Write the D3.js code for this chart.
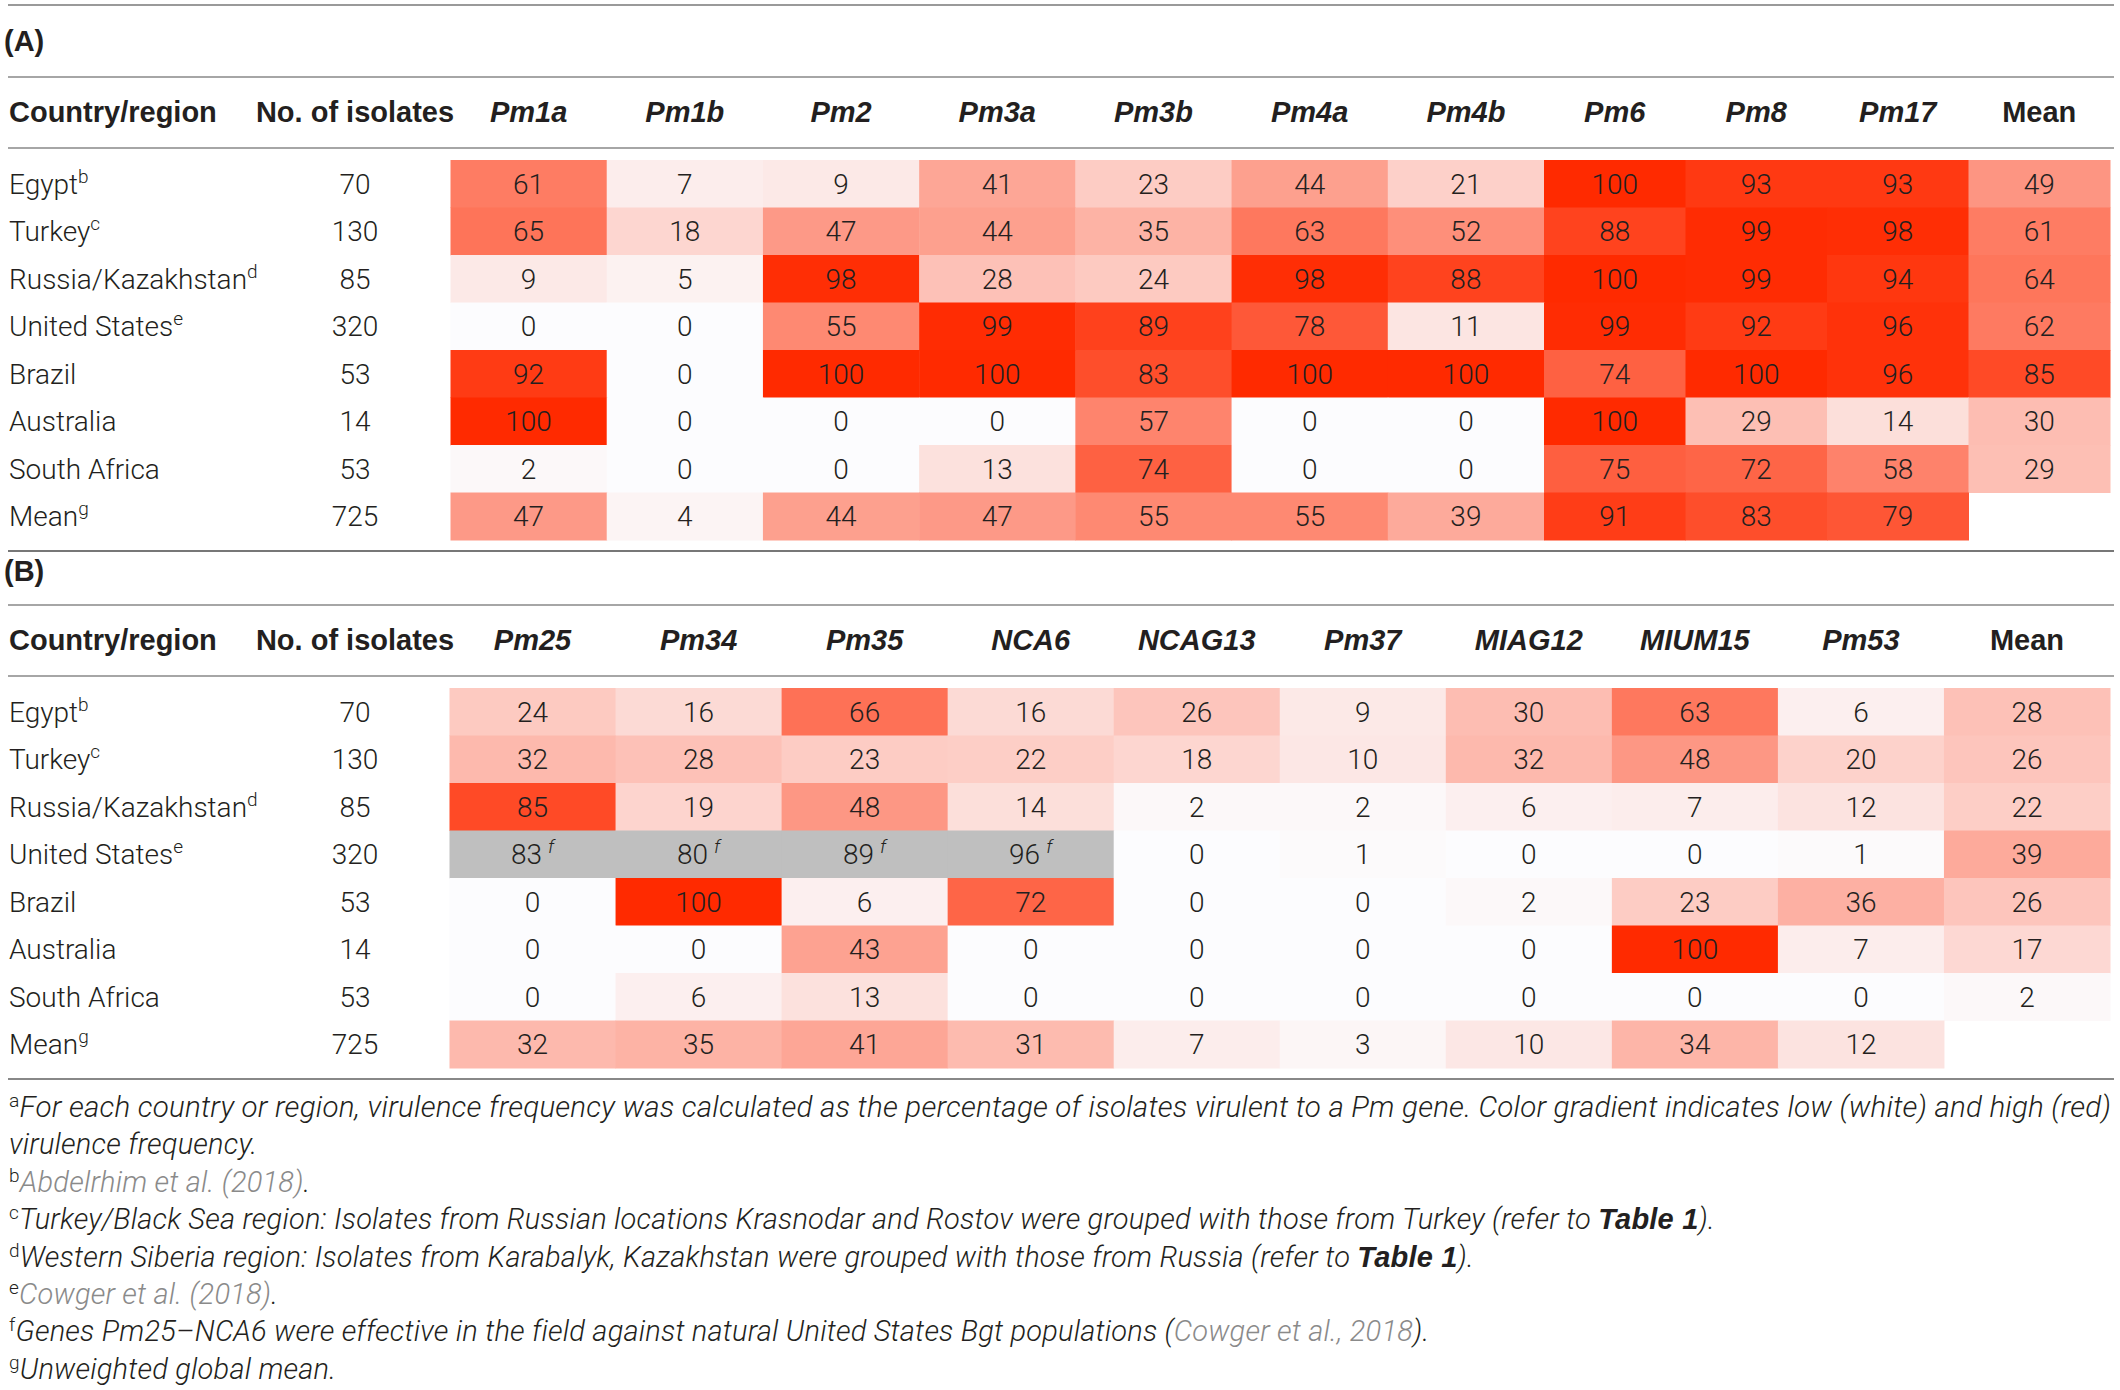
<!DOCTYPE html>
<html>
<head>
<meta charset="utf-8">
<script src="https://cdn.jsdelivr.net/npm/d3@7"></script>
<style>
  body { margin: 0; background: #fff; }
  text { font-family: "Roboto", "Liberation Sans", sans-serif; fill: #231f20; }
  .bold { font-family: "Liberation Sans", "Roboto", sans-serif; font-weight: 700; }
</style>
</head>
<body>
<svg id="chart" width="2120" height="1390"></svg>
<script>
// ---- data ----
const countries = ["Egypt", "Turkey", "Russia/Kazakhstan", "United States", "Brazil", "Australia", "South Africa", "Mean"];
const countryNotes = ["b", "c", "d", "e", "", "", "", "g"];
const isolates = [70, 130, 85, 320, 53, 14, 53, 725];

const genesA = ["Pm1a", "Pm1b", "Pm2", "Pm3a", "Pm3b", "Pm4a", "Pm4b", "Pm6", "Pm8", "Pm17"];
const valuesA = [
  [61, 7, 9, 41, 23, 44, 21, 100, 93, 93],
  [65, 18, 47, 44, 35, 63, 52, 88, 99, 98],
  [9, 5, 98, 28, 24, 98, 88, 100, 99, 94],
  [0, 0, 55, 99, 89, 78, 11, 99, 92, 96],
  [92, 0, 100, 100, 83, 100, 100, 74, 100, 96],
  [100, 0, 0, 0, 57, 0, 0, 100, 29, 14],
  [2, 0, 0, 13, 74, 0, 0, 75, 72, 58],
  [47, 4, 44, 47, 55, 55, 39, 91, 83, 79]
];
const meansA = [49, 61, 64, 62, 85, 30, 29, null];

const genesB = ["Pm25", "Pm34", "Pm35", "NCA6", "NCAG13", "Pm37", "MIAG12", "MIUM15", "Pm53"];
const valuesB = [
  [24, 16, 66, 16, 26, 9, 30, 63, 6],
  [32, 28, 23, 22, 18, 10, 32, 48, 20],
  [85, 19, 48, 14, 2, 2, 6, 7, 12],
  [83, 80, 89, 96, 0, 1, 0, 0, 1],
  [0, 100, 6, 72, 0, 0, 2, 23, 36],
  [0, 0, 43, 0, 0, 0, 0, 100, 7],
  [0, 6, 13, 0, 0, 0, 0, 0, 0],
  [32, 35, 41, 31, 7, 3, 10, 34, 12]
];
const meansB = [28, 26, 22, 39, 26, 17, 2, null];
// genes effective in the field against US populations (shown grey, note f)
const fieldEffective = ["Pm25", "Pm34", "Pm35", "NCA6"];
const fieldCountry = "United States";

const footnotes = [
  { mark: "a", parts: [["For each country or region, virulence frequency was calculated as the percentage of isolates virulent to a Pm gene. Color gradient indicates low (white) and high (red)", "t"]], justify: true },
  { mark: "", parts: [["virulence frequency.", "t"]] },
  { mark: "b", parts: [["Abdelrhim et al. (2018)", "ref"], [".", "t"]] },
  { mark: "c", parts: [["Turkey/Black Sea region: Isolates from Russian locations Krasnodar and Rostov were grouped with those from Turkey (refer to ", "t"], ["Table 1", "b"], [").", "t"]] },
  { mark: "d", parts: [["Western Siberia region: Isolates from Karabalyk, Kazakhstan were grouped with those from Russia (refer to ", "t"], ["Table 1", "b"], [").", "t"]] },
  { mark: "e", parts: [["Cowger et al. (2018)", "ref"], [".", "t"]] },
  { mark: "f", parts: [["Genes Pm25\u2013NCA6 were effective in the field against natural United States Bgt populations (", "t"], ["Cowger et al., 2018", "ref"], [").", "t"]] },
  { mark: "g", parts: [["Unweighted global mean.", "t"]] }
];

// ---- drawing ----
const svg = d3.select("#chart");
const ink = "#231f20";
const color = d3.scaleLinear().domain([0, 100]).range(["#fcfcfe", "#ff2a00"]).interpolate(d3.interpolateRgb);

function rule(y, stroke) {
  svg.append("line")
    .attr("x1", 8).attr("x2", 2114)
    .attr("y1", y).attr("y2", y)
    .attr("stroke", stroke)
    .attr("stroke-width", 2);
}

function drawSection(o) {
  const g = svg.append("g");
  const cols = [...o.genes, "Mean"];
  const bands = o.splits.map(s => d3.scaleBand().domain(cols.slice(s.from, s.to)).range(s.range));
  const xb = c => bands.find(b => b.domain().includes(c));
  const y = d3.scaleBand().domain(countries).range([o.top, o.top + 380]);

  // section label
  g.append("text").attr("class", "bold").attr("x", 4).attr("y", o.labelY)
    .style("font-size", "29px")
    .text(o.label);

  // header
  const head = g.append("g").attr("class", "bold").style("font-size", "29px");
  head.append("text").attr("class", "bold").attr("x", 9).attr("y", o.headY).text("Country/region");
  head.append("text").attr("class", "bold").attr("x", 355).attr("y", o.headY).attr("text-anchor", "middle").text("No. of isolates");
  head.selectAll(".colhead").data(cols).join("text")
    .attr("class", "colhead bold")
    .attr("x", d => xb(d)(d) + xb(d).bandwidth() / 2)
    .attr("y", o.headY)
    .attr("text-anchor", "middle")
    .style("font-style", d => d === "Mean" ? "normal" : "italic")
    .text(d => d);

  // cells
  const cells = countries.flatMap((c, i) => cols.map((col, j) => ({
    c, col,
    v: j < o.genes.length ? o.values[i][j] : o.means[i],
    grey: !!o.grey && c === o.grey.country && o.grey.genes.includes(col)
  }))).filter(d => d.v != null);

  g.selectAll("rect.cell").data(cells).join("rect")
    .attr("class", "cell")
    .attr("x", d => xb(d.col)(d.col))
    .attr("y", d => y(d.c))
    .attr("width", d => xb(d.col).bandwidth() + 0.5)
    .attr("height", y.bandwidth() + 0.5)
    .attr("fill", d => d.grey ? "#bfbfbf" : color(d.v));

  const vt = g.selectAll("text.val").data(cells).join("text")
    .attr("class", "val")
    .attr("x", d => xb(d.col)(d.col) + xb(d.col).bandwidth() / 2)
    .attr("y", d => y(d.c) + y.bandwidth() / 2 + 10)
    .attr("text-anchor", "middle")
    .style("font-size", "28px").style("font-weight", 300);
  vt.append("tspan").text(d => d.v);
  vt.filter(d => d.grey).append("tspan")
    .attr("dx", 6).attr("dy", -11)
    .style("font-size", "19px").style("font-style", "italic")
    .text("f");

  // row labels
  const rl = g.selectAll("text.row").data(countries).join("text")
    .attr("class", "row")
    .attr("x", 9)
    .attr("y", d => y(d) + y.bandwidth() / 2 + 10)
    .style("font-size", "28px").style("font-weight", 300);
  rl.append("tspan").text(d => d);
  rl.append("tspan").attr("dy", -11).style("font-size", "19px")
    .text((d, i) => countryNotes[i]);

  g.selectAll("text.iso").data(isolates).join("text")
    .attr("class", "iso")
    .attr("x", 355)
    .attr("y", (d, i) => y(countries[i]) + y.bandwidth() / 2 + 10)
    .attr("text-anchor", "middle")
    .style("font-size", "28px").style("font-weight", 300)
    .text(d => d);
}

rule(5, "#9a9a9a");
rule(77, "#a6a6a6");
rule(148, "#a6a6a6");
drawSection({
  label: "(A)", labelY: 51, headY: 122, top: 160,
  genes: genesA, values: valuesA, means: meansA,
  splits: [{ from: 0, to: 7, range: [450.5, 1544] }, { from: 7, to: 11, range: [1544, 2110] }]
});
rule(551, "#777");
rule(605, "#a6a6a6");
rule(676, "#a6a6a6");
drawSection({
  label: "(B)", labelY: 581, headY: 650, top: 688,
  genes: genesB, values: valuesB, means: meansB,
  grey: { country: fieldCountry, genes: fieldEffective },
  splits: [{ from: 0, to: 10, range: [449.5, 2110] }]
});
rule(1079, "#888");

// footnotes
const fn = svg.append("g")
  .style("font-size", "29px").style("font-weight", 300)
  .style("letter-spacing", "0.2px");
const ft = fn.selectAll("text").data(footnotes).join("text")
  .attr("x", 9)
  .attr("y", (d, i) => 1117 + i * 37.4);
ft.each(function(d) {
  const t = d3.select(this);
  if (d.mark) {
    t.append("tspan").attr("dy", -10).style("font-size", "19px").text(d.mark);
  }
  d.parts.forEach(([s, k], j) => {
    const sp = t.append("tspan")
      .style("font-style", "italic")
      .style("fill", k === "ref" ? "#8a8a8a" : ink)
      .text(s);
    if (k === "b") sp.attr("class", "bold");
    if (d.mark && j === 0) sp.attr("dy", 10);
  });
});
ft.filter(d => d.justify)
  .attr("textLength", 2102)
  .attr("lengthAdjust", "spacingAndGlyphs");
</script>
</body>
</html>
